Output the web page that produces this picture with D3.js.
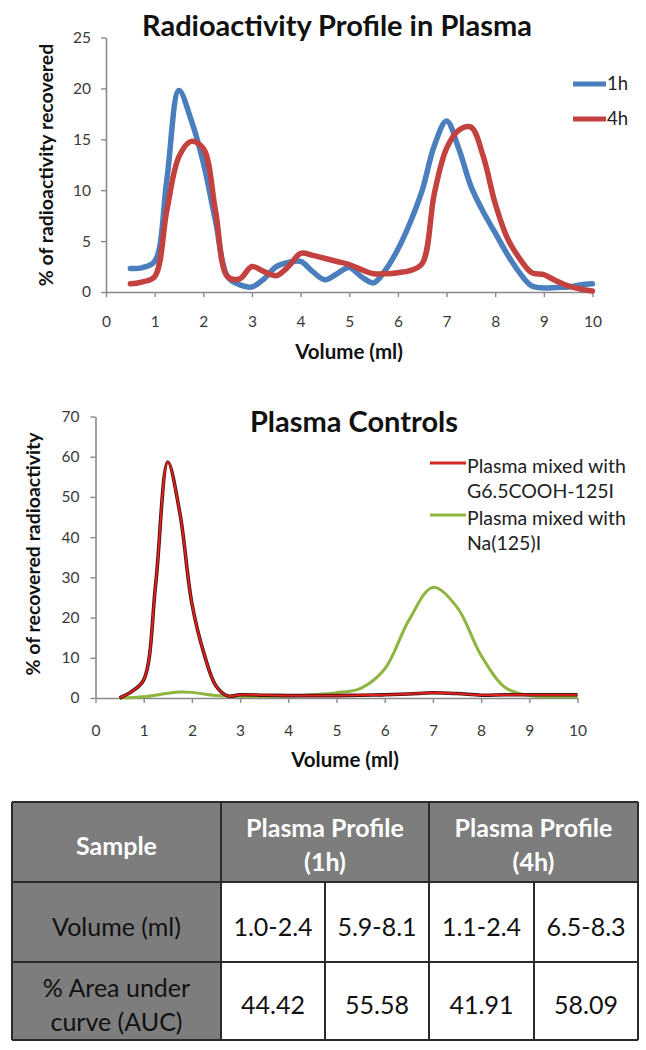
<!DOCTYPE html>
<html><head><meta charset="utf-8">
<script src="https://cdn.jsdelivr.net/npm/d3@7"></script>
<style>body{margin:0;background:#fff}svg{display:block}text{font-family:Lato,"Open Sans",sans-serif}</style>
</head><body><svg id="c" width="646" height="1050"></svg>
<script>
// ---------- Chart 1 data ----------
const volume1 = [0.5,0.75,1,1.25,1.5,1.75,2,2.25,2.5,2.75,3,3.25,3.5,3.75,4,4.25,4.5,4.75,5,5.25,5.5,5.75,6,6.25,6.5,6.75,7,7.25,7.5,7.75,8,8.25,8.5,8.75,9,9.25,9.5,9.75,10];
const h1 = [2.3,2.4,3.0,11.0,19.8,16.9,12.7,7.0,1.5,0.7,0.5,1.3,2.5,2.9,3.0,2.0,1.2,1.8,2.4,1.5,0.9,2.2,4.2,6.8,10.0,14.4,16.8,14.1,10.4,7.9,5.8,3.7,1.9,0.6,0.4,0.45,0.5,0.7,0.8];
const h4 = [0.8,1.0,1.5,8.0,13.3,14.8,14.1,8.0,1.5,1.3,2.5,2.0,1.6,2.5,3.8,3.6,3.3,3.0,2.7,2.2,1.8,1.8,1.9,2.1,2.8,9.7,14.1,15.9,16.2,13.4,8.7,5.3,3.3,1.9,1.7,1.1,0.6,0.3,0.1];
const series1Names = ["1h","4h"];
const yTicks1 = [0,5,10,15,20,25];
const xTicks = [0,1,2,3,4,5,6,7,8,9,10];

// ---------- Chart 2 data ----------
const volumeRed = [0.5,0.75,1,1.25,1.5,1.75,2,2.25,2.5,2.75,3,3.5,4,4.5,5,5.5,6,6.5,7,7.5,8,8.5,9,9.5,10];
const g65 = [0,1.6,4.5,28.5,58.7,46,23.5,11.1,3.0,0.5,0.8,0.7,0.6,0.6,0.6,0.7,0.8,1.0,1.3,1.1,0.7,0.8,0.8,0.8,0.8];
const volumeGreen = [0.5,1,1.5,1.75,2,2.5,3,3.5,4,4.5,5,5.5,6,6.5,7,7.5,8,8.5,9,9.5,10];
const na125 = [0,0.3,1.2,1.5,1.4,0.6,0.4,0.4,0.5,0.8,1.3,2.4,7.2,19.3,27.5,22.6,10.6,2.6,0.6,0.3,0.4];
const series2Names = [["Plasma mixed with","G6.5COOH-125I"],["Plasma mixed with","Na(125)I"]];
const yTicks2 = [0,10,20,30,40,50,60,70];

// ---------- Table data ----------
const tableHeader = [["Sample"], ["Plasma Profile","(1h)"], ["Plasma Profile","(4h)"]];
const rowLabels = [["Volume (ml)"], ["% Area under","curve (AUC)"]];
const volumeRanges = ["1.0-2.4","5.9-8.1","1.1-2.4","6.5-8.3"];
const aucValues = ["44.42","55.58","41.91","58.09"];

const svg = d3.select("#c");
svg.append("rect").attr("width",646).attr("height",1050).attr("fill","#fff");

function drawAxes(g, x, y, yTicks, opts){
  const ax = g.append("g").attr("transform",`translate(0,${y(0)})`)
    .call(d3.axisBottom(x).tickValues(xTicks).tickSize(5).tickPadding(opts.xPad).tickSizeOuter(0));
  const ay = g.append("g").attr("transform",`translate(${x(0)},0)`)
    .call(d3.axisLeft(y).tickValues(yTicks).tickSize(5).tickPadding(opts.yPad).tickSizeOuter(0));
  [ax,ay].forEach(a=>{
    a.select(".domain").attr("stroke","#8a8a8a").attr("stroke-width",1.6);
    a.selectAll(".tick line").attr("stroke","#8a8a8a").attr("stroke-width",1.4);
    a.selectAll(".tick text").attr("fill","#3a3a3a").style("font-size","15.5px").style("font-family","Lato, sans-serif");
  });
}

// ---------- Chart 1 ----------
{
  const x = d3.scaleLinear().domain([0,10]).range([106,592.5]);
  const y = d3.scaleLinear().domain([0,25]).range([292,37.5]);
  const g = svg.append("g");
  drawAxes(g,x,y,yTicks1,{xPad:19,yPad:10});
  const line = d3.line().x((d,i)=>x(volume1[i])).y(d=>y(d)).curve(d3.curveCatmullRom.alpha(0.5));
  const cols = ["#4a7ebd","#c3413e"];
  [h1,h4].forEach((s,k)=>{
    g.append("path").datum(s).attr("d",line).attr("fill","none").attr("stroke",cols[k])
      .attr("stroke-width",5.5).attr("stroke-linejoin","round").attr("stroke-linecap","round");
  });
  g.append("text").attr("x",337).attr("y",36).attr("text-anchor","middle")
    .style("font-size","29px").style("font-weight","bold").attr("fill","#111").text("Radioactivity Profile in Plasma");
  g.append("text").attr("transform","translate(53,165) rotate(-90)").attr("text-anchor","middle")
    .style("font-size","19.5px").style("font-weight","bold").attr("fill","#111").text("% of radioactivity recovered");
  g.append("text").attr("x",349).attr("y",359).attr("text-anchor","middle")
    .style("font-size","20.5px").style("font-weight","bold").attr("fill","#111").text("Volume (ml)");
  series1Names.forEach((n,k)=>{
    const ly = 84 + k*35;
    g.append("line").attr("x1",573).attr("x2",606).attr("y1",ly).attr("y2",ly).attr("stroke",cols[k]).attr("stroke-width",5);
    g.append("text").attr("x",607).attr("y",ly).attr("dy","0.35em").style("font-size","18.5px").attr("fill","#222").text(n);
  });
}

// ---------- Chart 2 ----------
{
  const x = d3.scaleLinear().domain([0,10]).range([95.5,577.5]);
  const y = d3.scaleLinear().domain([0,70]).range([698,416.5]);
  const g = svg.append("g");
  drawAxes(g,x,y,yTicks2,{xPad:22,yPad:11});
  const mk = (xs,c) => d3.line().x((d,i)=>x(xs[i])).y(d=>y(d)).curve(c);
  g.append("path").datum(na125).attr("d",mk(volumeGreen,d3.curveCatmullRom.alpha(0.5))).attr("fill","none").attr("stroke","#8db53f").attr("stroke-width",3);
  const redLine = mk(volumeRed,d3.curveCatmullRom.alpha(0.5));
  g.append("path").datum(g65).attr("d",redLine).attr("fill","none").attr("stroke","#4a1414").attr("stroke-width",3.6);
  g.append("path").datum(g65).attr("d",redLine).attr("fill","none").attr("stroke","#e8201c").attr("stroke-width",1.8);
  g.append("text").attr("x",354).attr("y",432).attr("text-anchor","middle")
    .style("font-size","29px").style("font-weight","bold").attr("fill","#111").text("Plasma Controls");
  g.append("text").attr("transform","translate(40,554) rotate(-90)").attr("text-anchor","middle")
    .style("font-size","19.5px").style("font-weight","bold").attr("fill","#111").text("% of recovered radioactivity");
  g.append("text").attr("x",345).attr("y",767).attr("text-anchor","middle")
    .style("font-size","20.5px").style("font-weight","bold").attr("fill","#111").text("Volume (ml)");
  const lc = ["#d42a26","#8db53f"];
  series2Names.forEach((lines,k)=>{
    const ly = 463 + k*52;
    g.append("line").attr("x1",430).attr("x2",466).attr("y1",ly).attr("y2",ly).attr("stroke",lc[k]).attr("stroke-width",3);
    lines.forEach((t,j)=>{
      g.append("text").attr("x",467).attr("y",ly+3+j*25.5).attr("dy","0.35em").style("font-size","19.5px").attr("fill","#222").text(t);
    });
  });
}

// ---------- Table ----------
{
  const g = svg.append("g");
  const colX = [12,221,325,429,534,638];
  const rowY = [802,882,962,1040];
  const grey = "#7d7d7d";
  g.append("rect").attr("x",colX[0]).attr("y",rowY[0]).attr("width",colX[5]-colX[0]).attr("height",rowY[1]-rowY[0]).attr("fill",grey);
  g.append("rect").attr("x",colX[0]).attr("y",rowY[1]).attr("width",colX[1]-colX[0]).attr("height",rowY[3]-rowY[1]).attr("fill",grey);
  function multi(lines, cx, cy, size, weight, fill, lh){
    const n = lines.length;
    lines.forEach((t,i)=>{
      g.append("text").attr("x",cx).attr("y",cy + (i-(n-1)/2)*lh).attr("dy","0.35em").attr("text-anchor","middle")
        .style("font-size",size+"px").style("font-weight",weight).attr("fill",fill).text(t);
    });
  }
  multi(tableHeader[0], (colX[0]+colX[1])/2, 846, 25, "bold", "#fff", 34);
  multi(tableHeader[1], (colX[1]+colX[3])/2, 845, 25, "bold", "#fff", 34);
  multi(tableHeader[2], (colX[3]+colX[5])/2, 845, 25, "bold", "#fff", 34);
  multi(rowLabels[0], (colX[0]+colX[1])/2, 927, 25, "normal", "#111", 34);
  multi(rowLabels[1], (colX[0]+colX[1])/2, 1005, 25, "normal", "#111", 34);
  volumeRanges.forEach((v,i)=> multi([v], (colX[i+1]+colX[i+2])/2, 927, 25, "normal", "#111", 30));
  aucValues.forEach((v,i)=> multi([v], (colX[i+1]+colX[i+2])/2, 1005, 25, "normal", "#111", 30));
  const bc = "#2b2b2b";
  rowY.forEach(yy=> g.append("line").attr("x1",colX[0]).attr("x2",colX[5]).attr("y1",yy).attr("y2",yy).attr("stroke",bc).attr("stroke-width",2));
  [0,1,3,5].forEach(i=> g.append("line").attr("x1",colX[i]).attr("x2",colX[i]).attr("y1",rowY[0]).attr("y2",rowY[3]).attr("stroke",bc).attr("stroke-width",2));
  [2,4].forEach(i=> g.append("line").attr("x1",colX[i]).attr("x2",colX[i]).attr("y1",rowY[1]).attr("y2",rowY[3]).attr("stroke",bc).attr("stroke-width",2));
}
</script></body></html>
